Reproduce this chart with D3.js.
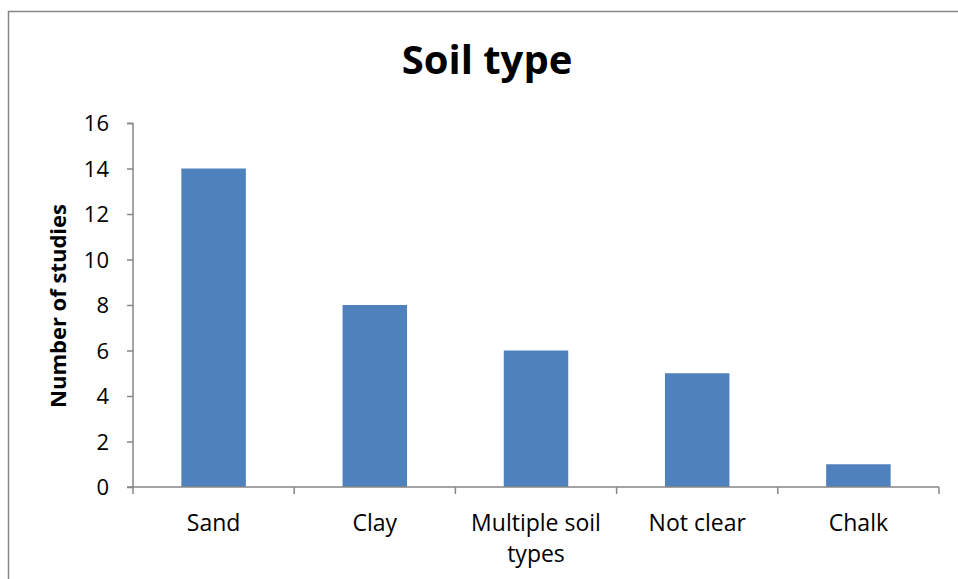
<!DOCTYPE html>
<html>
<head>
<meta charset="utf-8">
<script src="https://cdn.jsdelivr.net/npm/d3@7"></script>
<style>
  body { margin: 0; background: #fff; }
  svg { display: block; font-family: "Open Sans", "Liberation Sans", sans-serif; }
</style>
</head>
<body>
<div id="chart"></div>
<script>
// data
var categories = ["Sand", "Clay", "Multiple soil types", "Not clear", "Chalk"];
var studies = [14, 8, 6, 5, 1];
var yTicks = [0, 2, 4, 6, 8, 10, 12, 14, 16];

var W = 958, H = 579;
var margin = { top: 123, right: 19, bottom: 92, left: 133 },
    width = W - margin.left - margin.right,
    height = H - margin.top - margin.bottom;

var svg = d3.select("#chart")
  .append("svg")
  .attr("width", W)
  .attr("height", H);

// chart area border (cut off on right and bottom like the original)
svg.append("rect")
  .attr("x", 8.5).attr("y", 11.5)
  .attr("width", 1000).attr("height", 1000)
  .attr("fill", "none")
  .attr("stroke", "#868686")
  .attr("stroke-width", 1.5);

svg.append("text")
  .attr("x", 487)
  .attr("y", 74)
  .attr("text-anchor", "middle")
  .style("font-size", "40px")
  .style("font-weight", "bold")
  .text("Soil type");

var g = svg.append("g")
  .attr("transform", "translate(" + margin.left + "," + margin.top + ")");

var x = d3.scaleBand()
  .domain(categories)
  .range([0, width])
  .padding(0);

var y = d3.scaleLinear()
  .domain([0, 16])
  .range([height, 0]);

// bars
var barW = x.bandwidth() * 0.4;
g.selectAll("rect.bar")
  .data(categories)
  .enter()
  .append("rect")
  .attr("class", "bar")
  .attr("x", function(d) { return x(d) + (x.bandwidth() - barW) / 2; })
  .attr("y", function(d, i) { return y(studies[i]); })
  .attr("width", barW)
  .attr("height", function(d, i) { return height - y(studies[i]); })
  .attr("fill", "#4F81BD");

// y axis
var yAxis = g.append("g")
  .call(d3.axisLeft(y).tickValues(yTicks).tickSize(6).tickPadding(18));
yAxis.selectAll("path, line").attr("stroke", "#868686").attr("stroke-width", 1.5);
yAxis.select("path").attr("d", "M-6,0.5H0V" + height + "H-6");
yAxis.selectAll("text")
  .style("font-size", "22px")
  .style("font-family", "'Open Sans', 'Liberation Sans', sans-serif")
  .attr("fill", "#000")
  .attr("dy", "0.36em");

// x axis: ticks on category boundaries
var xg = g.append("g").attr("transform", "translate(0," + height + ")");
xg.append("line")
  .attr("x1", 0).attr("x2", width)
  .attr("stroke", "#868686").attr("stroke-width", 1.5);
var bounds = categories.map(function(d) { return x(d); }).concat([width]);
xg.selectAll("line.tick")
  .data(bounds)
  .enter()
  .append("line")
  .attr("class", "tick")
  .attr("x1", function(d) { return d; })
  .attr("x2", function(d) { return d; })
  .attr("y1", 0).attr("y2", 7)
  .attr("stroke", "#868686").attr("stroke-width", 1.5);

var labelLines = {
  "Multiple soil types": ["Multiple soil", "types"]
};
categories.forEach(function(c) {
  var lines = labelLines[c] || [c];
  var t = xg.append("text")
    .attr("text-anchor", "middle")
    .style("font-size", "23px")
    .attr("fill", "#000");
  lines.forEach(function(l, i) {
    t.append("tspan")
      .attr("x", x(c) + x.bandwidth() / 2)
      .attr("y", 44 + i * 31)
      .text(l);
  });
});

// y label
svg.append("text")
  .attr("transform", "translate(66,306) rotate(-90)")
  .attr("text-anchor", "middle")
  .style("font-size", "22px")
  .style("font-weight", "bold")
  .text("Number of studies");
</script>
</body>
</html>
